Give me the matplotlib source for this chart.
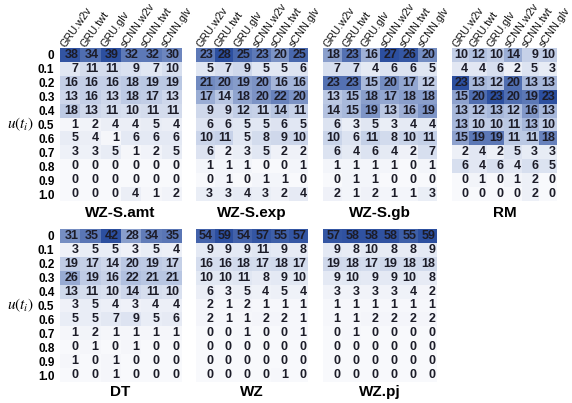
import matplotlib
matplotlib.use('Agg')
from matplotlib import pyplot as plt
from matplotlib.colors import LinearSegmentedColormap
import numpy as np

plt.rcParams['font.family'] = ['Liberation Sans', 'DejaVu Sans']
plt.rcParams['mathtext.fontset'] = 'stix'

models = ['GRU.w2v', 'GRU.twt', 'GRU.glv', 'sCNN.w2v', 'sCNN.twt', 'sCNN.glv']
u_levels = ['0', '0.1', '0.2', '0.3', '0.4', '0.5', '0.6', '0.7', '0.8', '0.9', '1.0']

wz_s_amt = [[38, 34, 39, 32, 32, 30], [7, 11, 11, 9, 7, 10], [16, 16, 16, 18, 19, 19],
            [13, 16, 13, 18, 17, 13], [18, 13, 11, 10, 11, 11], [1, 2, 4, 4, 5, 4],
            [5, 4, 1, 6, 6, 6], [3, 3, 5, 1, 2, 5], [0, 0, 0, 0, 0, 0],
            [0, 0, 0, 0, 0, 0], [0, 0, 0, 4, 1, 2]]
wz_s_exp = [[23, 28, 25, 23, 20, 25], [5, 7, 9, 5, 5, 6], [21, 20, 19, 20, 16, 16],
            [17, 14, 18, 20, 22, 20], [9, 9, 12, 11, 14, 11], [6, 6, 5, 5, 6, 5],
            [10, 11, 5, 8, 9, 10], [6, 2, 3, 5, 2, 2], [1, 1, 1, 0, 0, 1],
            [0, 1, 0, 1, 1, 0], [3, 3, 4, 3, 2, 4]]
wz_s_gb = [[18, 23, 16, 27, 26, 20], [7, 7, 4, 6, 6, 5], [23, 23, 15, 20, 17, 12],
           [13, 15, 18, 17, 18, 18], [14, 15, 19, 13, 16, 19], [6, 3, 5, 3, 4, 4],
           [10, 6, 11, 8, 10, 11], [6, 4, 6, 4, 2, 7], [1, 1, 1, 1, 0, 1],
           [0, 1, 1, 0, 0, 0], [2, 1, 2, 1, 1, 3]]
rm = [[10, 12, 10, 14, 9, 10], [4, 4, 6, 2, 5, 3], [23, 13, 12, 20, 13, 13],
      [15, 20, 23, 20, 19, 23], [13, 12, 13, 12, 16, 13], [13, 10, 10, 11, 13, 10],
      [15, 19, 19, 11, 11, 18], [2, 4, 2, 5, 3, 3], [6, 4, 6, 4, 6, 5],
      [0, 1, 0, 1, 2, 0], [0, 0, 0, 0, 2, 0]]
dt = [[31, 35, 42, 28, 34, 35], [3, 5, 5, 3, 5, 4], [19, 17, 14, 20, 19, 17],
      [26, 19, 16, 22, 21, 21], [13, 11, 10, 14, 11, 10], [3, 5, 4, 3, 4, 4],
      [5, 5, 7, 9, 5, 6], [1, 2, 1, 1, 1, 1], [0, 1, 0, 1, 0, 0],
      [1, 0, 1, 0, 0, 0], [0, 0, 1, 0, 0, 0]]
wz = [[54, 59, 54, 57, 55, 57], [9, 9, 9, 11, 9, 8], [16, 16, 18, 17, 18, 17],
      [10, 10, 11, 8, 9, 10], [6, 3, 5, 4, 5, 4], [2, 1, 2, 1, 1, 1],
      [2, 1, 1, 2, 2, 1], [0, 0, 1, 0, 0, 1], [0, 0, 0, 0, 0, 0],
      [0, 0, 0, 0, 0, 0], [0, 0, 0, 0, 1, 0]]
wz_pj = [[57, 58, 58, 58, 55, 59], [9, 8, 10, 8, 8, 9], [19, 18, 17, 19, 18, 18],
         [9, 10, 9, 9, 10, 8], [3, 3, 3, 3, 4, 2], [1, 1, 1, 1, 1, 1],
         [1, 1, 2, 2, 2, 2], [0, 1, 0, 0, 0, 0], [0, 0, 0, 0, 0, 0],
         [0, 0, 0, 0, 0, 0], [0, 0, 0, 0, 0, 0]]

W, H = 572, 403
cmap = LinearSegmentedColormap.from_list('blues', ['#f8f9fc', '#b9c7e3', '#2c4f9f'])

# (data, title, x0, x1, y0, y1, title_y, top_row)
panels = [
    (wz_s_amt, 'WZ-S.amt', 60, 181, 48, 201, 213, True),
    (wz_s_exp, 'WZ-S.exp', 196, 308, 48, 201, 213, True),
    (wz_s_gb, 'WZ-S.gb', 323, 437, 48, 201, 213, True),
    (rm, 'RM', 452, 557, 48, 201, 213, True),
    (dt, 'DT', 60, 181, 229, 382, 392, False),
    (wz, 'WZ', 196, 308, 229, 382, 392, False),
    (wz_pj, 'WZ.pj', 323, 437, 229, 382, 392, False),
]

fig = plt.figure(figsize=(W / 100, H / 100), dpi=100)

for data, title, x0, x1, y0, y1, ty, top in panels:
    arr = np.array(data)
    ax = fig.add_axes([x0 / W, 1 - y1 / H, (x1 - x0) / W, (y1 - y0) / H])
    ax.imshow(arr, cmap=cmap, vmin=0, vmax=arr.max(), aspect='auto', interpolation='nearest')
    for i in range(arr.shape[0]):
        for j in range(arr.shape[1]):
            ax.text(j + 0.42, i, str(arr[i, j]), ha='right', va='center',
                    fontsize=9, fontweight='bold', color='#1c1c28')
    for s in ax.spines.values():
        s.set_visible(False)
    ax.set_xticks([])
    if x0 == 60:
        ax.set_yticks(range(len(u_levels)))
        ax.set_yticklabels(u_levels, fontsize=8.5, fontweight='bold')
        ax.tick_params(axis='y', length=0, pad=4)
        ax.set_ylabel(r'$u(t_i)$', rotation=0, fontsize=11, va='center')
        ax.yaxis.set_label_coords(-0.33, 0.5)
    else:
        ax.set_yticks([])
    if top:
        for j, m in enumerate(models):
            ax.text(j - 0.35, -0.6, m, rotation=55, rotation_mode='anchor',
                    ha='left', va='center', fontsize=7.8, color='#111111')
    fig.text((x0 + x1) / 2 / W, 1 - ty / H, title, ha='center', va='center',
             fontsize=11, fontweight='bold')

fig.savefig('out.png', dpi=100)
